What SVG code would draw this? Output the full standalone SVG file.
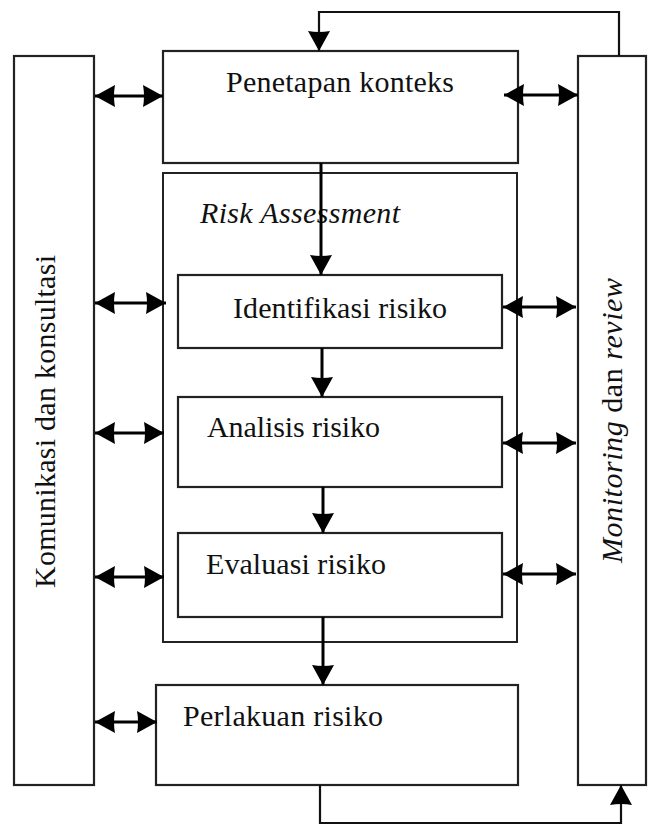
<svg xmlns="http://www.w3.org/2000/svg" width="648" height="825" viewBox="0 0 648 825">
<style>
.box{fill:#fff;stroke:#222;stroke-width:2.2}
.frame{fill:none;stroke:#222;stroke-width:2}
.t{font-family:"Liberation Serif","Times New Roman",serif;font-size:30px;fill:#111}
.it{font-style:italic}
.c{fill:none;stroke:#000;stroke-width:3}
.fb{fill:none;stroke:#111;stroke-width:2.2}
</style>
<defs>
<marker id="ah" markerUnits="userSpaceOnUse" markerWidth="20" markerHeight="22" refX="20" refY="11" orient="auto-start-reverse" viewBox="0 0 20 22">
<path d="M0,0 L20,11 L0,22 Q2,11 0,0 z" fill="#000"/>
</marker>
</defs>
<rect width="648" height="825" fill="#fff"/>

<g id="komunikasi">
<rect class="box" x="14" y="56" width="80" height="729"/>
<text class="t" transform="translate(55,588) rotate(-90)" textLength="333" lengthAdjust="spacing">Komunikasi dan konsultasi</text>
</g>
<g id="monitoring">
<rect class="box" x="578" y="56" width="68" height="729"/>
<text class="t" transform="translate(622,563) rotate(-90)" textLength="285" lengthAdjust="spacing"><tspan class="it">Monitoring</tspan> dan <tspan class="it">review</tspan></text>
</g>
<g id="penetapan">
<rect class="box" x="163" y="51" width="355" height="112"/>
<text class="t" x="226" y="92" textLength="228" lengthAdjust="spacing">Penetapan konteks</text>
</g>
<g id="risk-assessment">
<rect class="frame" x="163" y="173" width="354" height="469"/>
<text class="t it" x="200" y="223" textLength="200" lengthAdjust="spacing">Risk Assessment</text>
</g>
<g id="identifikasi">
<rect class="box" x="178" y="275" width="324" height="73"/>
<text class="t" x="233" y="318" textLength="214" lengthAdjust="spacing">Identifikasi risiko</text>
</g>
<g id="analisis">
<rect class="box" x="178" y="397" width="324" height="90"/>
<text class="t" x="207" y="437" textLength="173" lengthAdjust="spacing">Analisis risiko</text>
</g>
<g id="evaluasi">
<rect class="box" x="178" y="533" width="324" height="84"/>
<text class="t" x="206" y="574" textLength="180" lengthAdjust="spacing">Evaluasi risiko</text>
</g>
<g id="perlakuan">
<rect class="box" x="156" y="685" width="362" height="100"/>
<text class="t" x="183" y="726" textLength="200" lengthAdjust="spacing">Perlakuan risiko</text>
</g>

<g id="connectors">
<line class="c" x1="321" y1="163" x2="321" y2="275" marker-end="url(#ah)"/>
<line class="c" x1="322" y1="348" x2="322" y2="397" marker-end="url(#ah)"/>
<line class="c" x1="323" y1="487" x2="323" y2="533" marker-end="url(#ah)"/>
<line class="c" x1="323" y1="617" x2="323" y2="685" marker-end="url(#ah)"/>

<polyline class="fb" points="619,56 619,12 319,12 319,51" marker-end="url(#ah)"/>
<polyline class="fb" points="320,785 320,823 621,823 621,785" marker-end="url(#ah)"/>

<line class="c" x1="95" y1="96" x2="163" y2="96" marker-start="url(#ah)" marker-end="url(#ah)"/>
<line class="c" x1="504" y1="95" x2="578" y2="95" marker-start="url(#ah)" marker-end="url(#ah)"/>
<line class="c" x1="95" y1="303" x2="166" y2="303" marker-start="url(#ah)" marker-end="url(#ah)"/>
<line class="c" x1="503" y1="307" x2="576" y2="307" marker-start="url(#ah)" marker-end="url(#ah)"/>
<line class="c" x1="95" y1="433" x2="164" y2="433" marker-start="url(#ah)" marker-end="url(#ah)"/>
<line class="c" x1="503" y1="443" x2="576" y2="443" marker-start="url(#ah)" marker-end="url(#ah)"/>
<line class="c" x1="95" y1="577" x2="164" y2="577" marker-start="url(#ah)" marker-end="url(#ah)"/>
<line class="c" x1="503" y1="574" x2="576" y2="574" marker-start="url(#ah)" marker-end="url(#ah)"/>
<line class="c" x1="95" y1="722" x2="157" y2="722" marker-start="url(#ah)" marker-end="url(#ah)"/>
</g>
</svg>
